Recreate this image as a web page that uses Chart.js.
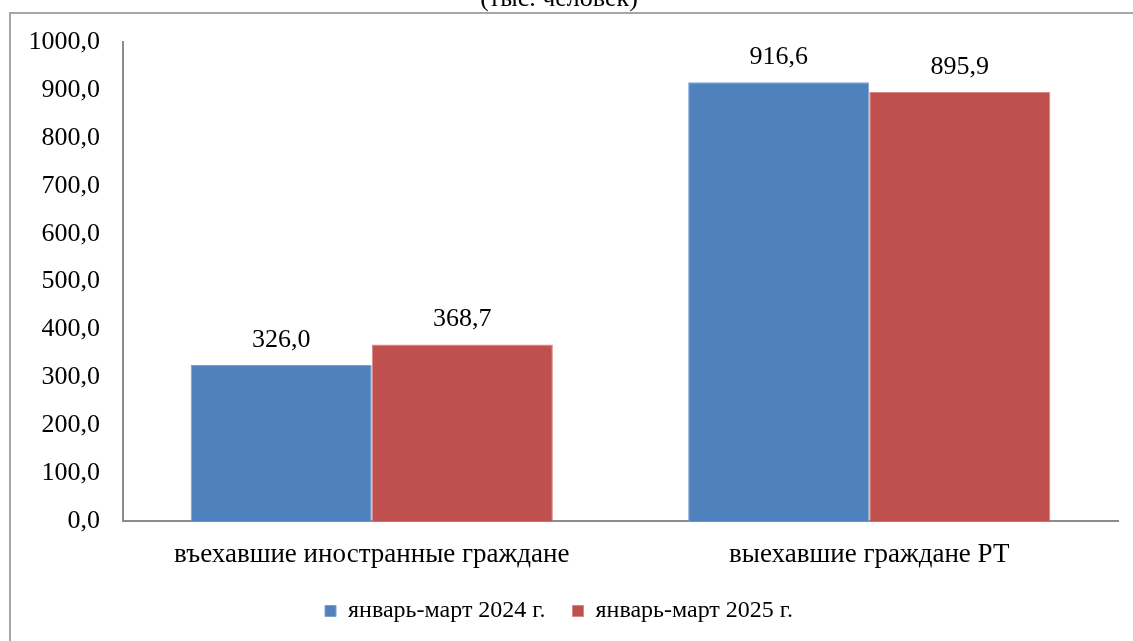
<!DOCTYPE html>
<html>
<head>
<meta charset="utf-8">
<script src="https://cdn.jsdelivr.net/npm/chart.js@4.4.1/dist/chart.umd.min.js"></script>
<style>
html,body{margin:0;padding:0;background:#fff;overflow:hidden;}
#wrap{position:absolute;left:0;top:-20px;width:1133px;height:661px;}
</style>
</head>
<body>
<div id="wrap"><canvas id="c" width="1133" height="661"></canvas></div>
<script>
const categories = ['въехавшие иностранные граждане', 'выехавшие граждане РТ'];
const series2024 = [326.0, 916.6];
const series2025 = [368.7, 895.9];
const seriesNames = ['январь-март 2024 г.', 'январь-март 2025 г.'];
const titleText = '(тыс. человек)';
const yMin = 0, yMax = 1000, yStep = 100;

const FONT = "'Liberation Serif', 'Times New Roman', serif";
const fmt = v => v.toFixed(1).replace('.', ',');

const framePlugin = {
  id: 'frame',
  beforeDraw(chart) {
    const ctx = chart.ctx;
    ctx.save();
    ctx.strokeStyle = '#a6a6a6';
    ctx.lineWidth = 2;
    ctx.strokeRect(10, 33, chart.width + 20, chart.height + 20);
    ctx.restore();
  }
};

const labelPlugin = {
  id: 'valueLabels',
  afterDatasetsDraw(chart) {
    const ctx = chart.ctx;
    ctx.save();
    ctx.font = '26px ' + FONT;
    ctx.fillStyle = '#000';
    ctx.textAlign = 'center';
    ctx.textBaseline = 'middle';
    chart.data.datasets.forEach((ds, i) => {
      const meta = chart.getDatasetMeta(i);
      meta.data.forEach((bar, j) => {
        ctx.fillText(fmt(ds.data[j]), bar.x, bar.y - 25);
      });
    });
    ctx.restore();
  }
};

new Chart(document.getElementById('c'), {
  type: 'bar',
  data: {
    labels: categories,
    datasets: [
      { label: seriesNames[0], data: series2024, backgroundColor: '#4F81BD', borderColor: '#7da3d3', borderWidth: 1 },
      { label: seriesNames[1], data: series2025, backgroundColor: '#C0504D', borderColor: '#d88784', borderWidth: 1 }
    ]
  },
  options: {
    responsive: false,
    animation: false,
    categoryPercentage: 0.728,
    barPercentage: 1.0,
    layout: { padding: { left: 0, right: 15, top: 0, bottom: 8 } },
    plugins: {
      title: {
        display: true, text: titleText, color: '#000',
        font: { family: FONT, size: 26, weight: 'normal' },
        padding: { top: 4, bottom: 27 }
      },
      legend: {
        position: 'bottom',
        labels: {
          color: '#000', boxWidth: 11, boxHeight: 11, padding: 27,
          font: { family: FONT, size: 24 }
        }
      },
      tooltip: { enabled: false }
    },
    scales: {
      x: {
        grid: { display: false, drawTicks: false },
        border: { display: true, color: '#8c8c8c', width: 2 },
        ticks: { color: '#000', font: { family: FONT, size: 27 }, padding: 18, maxRotation: 0 },
        afterFit(s) { s.height = 51; }
      },
      y: {
        min: yMin, max: yMax,
        grid: { display: false },
        border: { display: true, color: '#8c8c8c', width: 2 },
        ticks: {
          stepSize: yStep, color: '#000', padding: 15,
          font: { family: FONT, size: 26 },
          callback: v => fmt(v)
        },
        afterFit(s) { s.width = 123; }
      }
    }
  },
  plugins: [framePlugin, labelPlugin]
});
</script>
</body>
</html>
